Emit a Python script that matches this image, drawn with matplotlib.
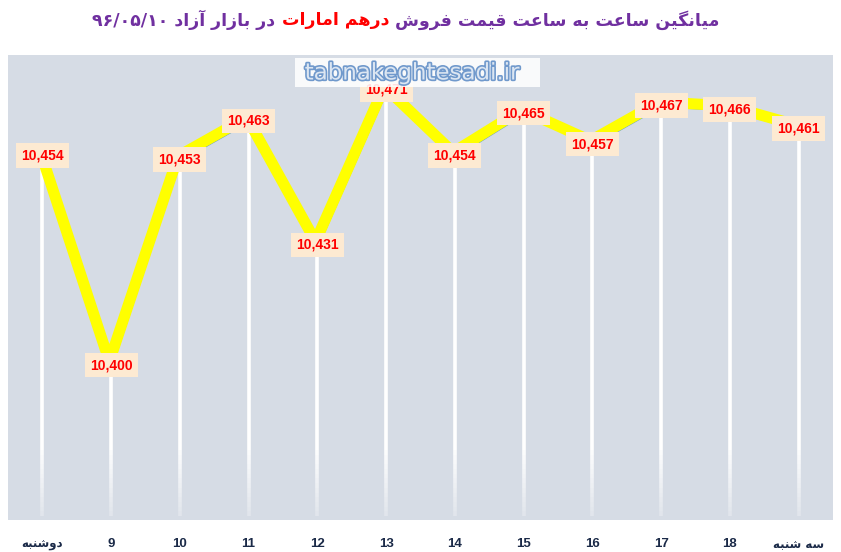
import matplotlib
matplotlib.use("Agg")
import matplotlib.pyplot as plt
import matplotlib.transforms as mtransforms
import matplotlib.patheffects as pe
from matplotlib.patches import Rectangle
import numpy as np

# ---------------- data ----------------
categories = ["دوشنبه", "9", "10", "11", "12", "13", "14", "15", "16", "17", "18", "سه شنبه"]
values = [10454, 10400, 10453, 10463, 10431, 10471, 10454, 10465, 10457, 10467, 10466, 10461]
value_labels = ["10,454", "10,400", "10,453", "10,463", "10,431", "10,471",
                "10,454", "10,465", "10,457", "10,467", "10,466", "10,461"]
title_parts = ["میانگین ساعت به ساعت قیمت فروش", "درهم امارات", "در بازار آزاد"]
title_date = "۹۶/۰۵/۱۰"
watermark = "tabnakeghtesadi.ir"

# ------------- minimal Persian shaping -------------
FORMS = {
    'ا': ('\uFE8D', '\uFE8E', None, None),
    'آ': ('\uFE81', '\uFE82', None, None),
    'ب': ('\uFE8F', '\uFE90', '\uFE91', '\uFE92'),
    'ت': ('\uFE95', '\uFE96', '\uFE97', '\uFE98'),
    'د': ('\uFEA9', '\uFEAA', None, None),
    'ر': ('\uFEAD', '\uFEAE', None, None),
    'ز': ('\uFEAF', '\uFEB0', None, None),
    'س': ('\uFEB1', '\uFEB2', '\uFEB3', '\uFEB4'),
    'ش': ('\uFEB5', '\uFEB6', '\uFEB7', '\uFEB8'),
    'ع': ('\uFEC9', '\uFECA', '\uFECB', '\uFECC'),
    'ف': ('\uFED1', '\uFED2', '\uFED3', '\uFED4'),
    'ق': ('\uFED5', '\uFED6', '\uFED7', '\uFED8'),
    'ل': ('\uFEDD', '\uFEDE', '\uFEDF', '\uFEE0'),
    'م': ('\uFEE1', '\uFEE2', '\uFEE3', '\uFEE4'),
    'ن': ('\uFEE5', '\uFEE6', '\uFEE7', '\uFEE8'),
    'ه': ('\uFEE9', '\uFEEA', '\uFEEB', '\uFEEC'),
    'و': ('\uFEED', '\uFEEE', None, None),
    'ی': ('\uFEEF', '\uFEF0', '\uFEF3', '\uFEF4'),
    'گ': ('\uFB92', '\uFB93', '\uFB94', '\uFB95'),
}


def shape(text):
    out = []
    n = len(text)
    for i, ch in enumerate(text):
        if ch not in FORMS:
            out.append(ch)
            continue
        prev = text[i - 1] if i > 0 else None
        nxt = text[i + 1] if i < n - 1 else None
        jp = prev in FORMS and FORMS[prev][2] is not None
        jn = FORMS[ch][2] is not None and nxt in FORMS
        iso, fin, ini, med = FORMS[ch]
        if jp and jn:
            out.append(med)
        elif jp:
            out.append(fin)
        elif jn:
            out.append(ini)
        else:
            out.append(iso)
    return ''.join(out)[::-1]


def is_persian(s):
    return any(c in FORMS for c in s)


# ---------------- figure ----------------
W, H = 841, 552
fig = plt.figure(figsize=(W / 100, H / 100), dpi=100)
fig.patch.set_facecolor("white")
ax = fig.add_axes([8 / W, 1 - 520 / H, (833 - 8) / W, (520 - 55) / H])
ax.set_facecolor("#D6DCE5")
for s in ax.spines.values():
    s.set_visible(False)

x = np.arange(len(values))
ax.set_xlim(-0.5, len(values) - 0.5)
ax.set_ylim(10360, 10480)
ax.set_yticks([])

# drop lines (white, fading towards the bottom)
ybot = 10360
yfade = 10378
ax.vlines(x, yfade, values, color="white", lw=2.6, zorder=2)
nseg = 14
edges = np.linspace(yfade, ybot + 1, nseg + 1)
for k in range(nseg):
    a = 1 - (k + 0.5) / nseg
    ax.vlines(x, edges[k + 1], edges[k], color="white", lw=2.6, alpha=0.25 + 0.7 * a, zorder=2)

# line: blue under, yellow on top (offset up-left)
ax.plot(x, values, color="#5B9BD5", lw=3.0, zorder=3, solid_capstyle="round")
off = mtransforms.offset_copy(ax.transData, fig=fig, x=-1.8, y=3.4, units="dots")
ax.plot(x, values, color="#FFFF00", lw=8.0, zorder=4, transform=off,
        solid_joinstyle="round", solid_capstyle="butt")

# value labels
for xi, v, lab in zip(x, values, value_labels):
    ax.text(xi, v, lab, ha="center", va="center", fontsize=10, fontweight="bold",
            family="Liberation Sans", color="#FF0000", zorder=6,
            bbox=dict(boxstyle="square,pad=0.38", fc="#FDEAD2", ec="none"))

# x tick labels
ax.set_xticks(x)
ax.set_xticklabels([shape(c) if is_persian(c) else c for c in categories])
ax.tick_params(axis="x", length=0, pad=13)
for t, c in zip(ax.get_xticklabels(), categories):
    t.set_fontweight("bold")
    t.set_color("#1B2A48")
    if is_persian(c):
        t.set_family("DejaVu Sans")
        t.set_fontsize(8.5)
    else:
        t.set_family("Liberation Sans")
        t.set_fontsize(9.5)

# watermark
fig.patches.append(Rectangle((295 / 100, (H - 87) / 100), 245 / 100, 29 / 100,
                             transform=fig.dpi_scale_trans, fc="white", ec="none",
                             alpha=0.88, zorder=5))
fig.text(412 / 100, (H - 73) / 100, watermark, transform=fig.dpi_scale_trans,
         ha="center", va="center", fontsize=16.5, family="DejaVu Sans",
         color="#DCE6F2", zorder=6,
         path_effects=[pe.withStroke(linewidth=2.4, foreground="#7099CC")])

# title (visual left-to-right pieces)
purple = "#7030A0"
red = "#FF0000"
pieces = [
    (title_date + " " + shape(title_parts[2]) + " ", purple),
    (shape(title_parts[1]), red),
    (" " + shape(title_parts[0]), purple),
]
ty = (H - 20) / 100
texts = []
for s, col in pieces:
    t = fig.text(0, ty, s, transform=fig.dpi_scale_trans, ha="left", va="center",
                 fontsize=12.5, fontweight="bold", family="DejaVu Sans", color=col)
    texts.append(t)
fig.canvas.draw()
r = fig.canvas.get_renderer()
widths = [t.get_window_extent(r).width for t in texts]
total = sum(widths)
cx = 406
start = cx - total / 2
for t, w in zip(texts, widths):
    t.set_x(start / 100)
    start += w

fig.savefig("out.png", dpi=100)
